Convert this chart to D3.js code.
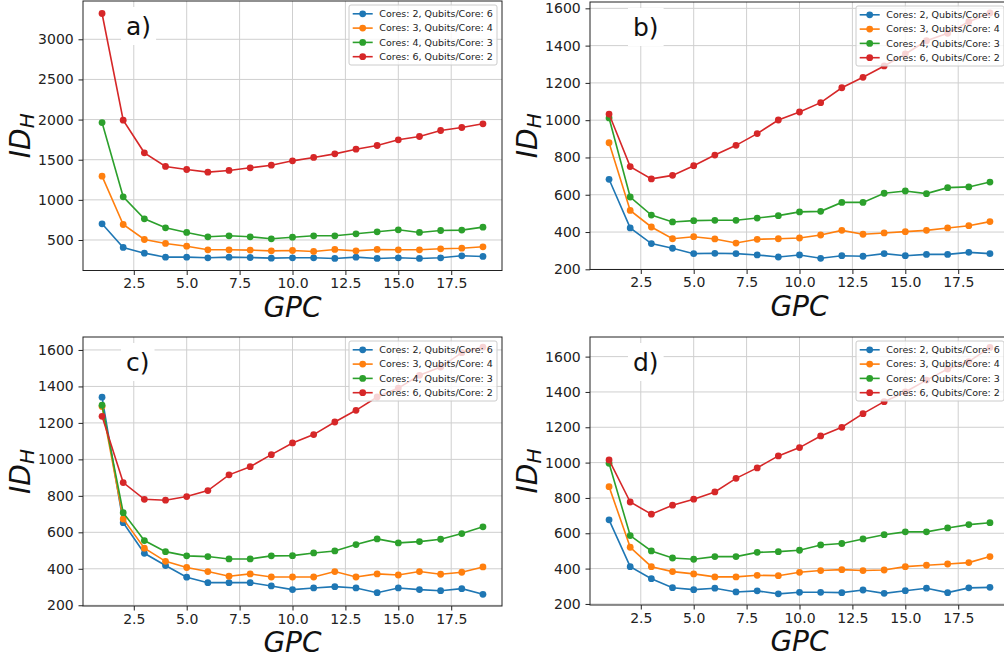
<!DOCTYPE html>
<html>
<head>
<meta charset="utf-8">
<script src="https://cdnjs.cloudflare.com/ajax/libs/d3/7.8.5/d3.min.js"></script>
<style>
	body { margin: 0; background: #fff; }
	svg { display: block; font-family: "DejaVu Sans", sans-serif; }
	.grid line { stroke: #cfcfcf; stroke-width: 1; }
	.axis path { display: none; }
	.axis line { stroke: #222; stroke-width: 1; }
	.axis text { font-size: 14px; fill: #222; font-family: "DejaVu Sans", sans-serif; }
	.series path { fill: none; stroke-width: 1.6; }
</style>
</head>
<body>
<div id="chart"></div>
<script>
var gpc = [1, 2, 3, 4, 5, 6, 7, 8, 9, 10, 11, 12, 13, 14, 15, 16, 17, 18, 19];
var xTicks = [2.5, 5, 7.5, 10, 12.5, 15, 17.5];
var xLimits = [0.1, 19.9];
var legendLabels = ["Cores: 2, Qubits/Core: 6", "Cores: 3, Qubits/Core: 4", "Cores: 4, Qubits/Core: 3", "Cores: 6, Qubits/Core: 2"];
var colors = ["#1f77b4", "#ff7f0e", "#2ca02c", "#d62728"];
var panelLetters = ["a)", "b)", "c)", "d)"];

// a)
var aCores2 = [702, 407, 336, 286, 286, 278, 286, 282, 274, 278, 278, 270, 286, 270, 278, 270, 278, 303, 295];
var aCores3 = [1295, 693, 506, 457, 423, 378, 378, 374, 365, 369, 357, 382, 365, 382, 378, 378, 390, 398, 415];
var aCores4 = [1963, 1038, 764, 652, 594, 540, 552, 540, 515, 535, 552, 552, 577, 602, 627, 594, 618, 623, 660];
var aCores6 = [3321, 1992, 1586, 1416, 1378, 1345, 1366, 1399, 1432, 1486, 1528, 1573, 1631, 1677, 1748, 1789, 1864, 1901, 1947];

// b)
var bCores2 = [683, 422, 338, 313, 284, 286, 284, 277, 266, 277, 259, 273, 270, 284, 273, 280, 280, 291, 284];
var bCores3 = [879, 516, 427, 364, 375, 363, 341, 361, 364, 368, 384, 409, 388, 395, 402, 409, 422, 434, 456];
var bCores4 = [1012, 588, 491, 454, 461, 463, 463, 475, 488, 508, 511, 559, 559, 608, 620, 606, 638, 642, 668];
var bCores6 = [1033, 751, 685, 704, 756, 813, 865, 928, 1001, 1044, 1094, 1174, 1230, 1291, 1355, 1426, 1466, 1528, 1575];

// c)
var cCores2 = [1341, 653, 485, 418, 354, 324, 324, 324, 306, 286, 295, 302, 295, 269, 295, 286, 280, 291, 260];
var cCores3 = [1290, 673, 513, 441, 407, 385, 359, 372, 355, 355, 355, 385, 355, 372, 366, 385, 370, 381, 410];
var cCores4 = [1297, 708, 555, 494, 471, 467, 454, 454, 471, 472, 487, 498, 533, 564, 542, 549, 562, 593, 630];
var cCores6 = [1236, 873, 781, 776, 796, 829, 915, 960, 1026, 1090, 1136, 1205, 1269, 1342, 1391, 1461, 1506, 1585, 1616];

// d)
var dCores2 = [676, 411, 343, 292, 281, 289, 268, 274, 257, 266, 266, 264, 279, 260, 275, 289, 264, 291, 294];
var dCores3 = [864, 521, 411, 383, 370, 353, 353, 362, 360, 379, 389, 394, 389, 392, 411, 419, 426, 434, 468];
var dCores4 = [996, 587, 500, 460, 453, 468, 468, 492, 496, 504, 534, 542, 568, 592, 608, 608, 630, 649, 660];
var dCores6 = [1015, 777, 708, 759, 793, 834, 911, 970, 1038, 1085, 1151, 1200, 1277, 1345, 1400, 1467, 1530, 1572, 1652];

var yTicksA = [500, 1000, 1500, 2000, 2500, 3000];
var yTicksBCD = [200, 400, 600, 800, 1000, 1200, 1400, 1600];
var yLimits = [[120, 3477], [199, 1634], [196, 1671], [194, 1711]];

var panels = [
	{ series: [aCores2, aCores3, aCores4, aCores6], yTicks: yTicksA, box: [83, 1, 419, 269.5] },
	{ series: [bCores2, bCores3, bCores4, bCores6], yTicks: yTicksBCD, box: [590, 2, 419, 267.5] },
	{ series: [cCores2, cCores3, cCores4, cCores6], yTicks: yTicksBCD, box: [83, 337, 419, 269] },
	{ series: [dCores2, dCores3, dCores4, dCores6], yTicks: yTicksBCD, box: [590, 337, 419, 268] }
];

var svg = d3.select("#chart").append("svg")
	.attr("width", 1004)
	.attr("height", 661);

panels.forEach(function(p, i) { drawPanel(p, i); });

function drawPanel(p, index)
{
	var left = p.box[0], top = p.box[1], width = p.box[2], height = p.box[3];

	var g = svg.append("g")
		.attr("transform", "translate(" + left + "," + top + ")");

	var x = d3.scaleLinear()
		.domain(xLimits)
		.range([0, width]);

	var y = d3.scaleLinear()
		.domain(yLimits[index])
		.range([height, 0]);

	// gridlines under everything
	g.append("g")
		.attr("class", "grid")
		.selectAll("line.v")
		.data(xTicks)
		.enter()
		.append("line")
		.attr("x1", function(d) { return x(d); })
		.attr("x2", function(d) { return x(d); })
		.attr("y1", 0)
		.attr("y2", height);

	g.append("g")
		.attr("class", "grid")
		.selectAll("line.h")
		.data(p.yTicks)
		.enter()
		.append("line")
		.attr("x1", 0)
		.attr("x2", width)
		.attr("y1", function(d) { return y(d); })
		.attr("y2", function(d) { return y(d); });

	// panel letter with white box
	var letter = g.append("g");
	var letterText = letter.append("text")
		.attr("x", 43)
		.attr("y", 34)
		.style("font-size", "25px")
		.style("fill", "#111")
		.text(panelLetters[index]);
	var bb = letterText.node().getBBox();
	letter.insert("rect", "text")
		.attr("x", bb.x - 5)
		.attr("y", bb.y - 5)
		.attr("width", bb.width + 10)
		.attr("height", bb.height + 9)
		.attr("fill", "#fff");

	var line = d3.line()
		.x(function(d) { return x(d.x); })
		.y(function(d) { return y(d.y); });

	var data = p.series.map(function(vals)
	{
		return gpc.map(function(v, k) { return { x: v, y: vals[k] }; });
	});

	var s = g.selectAll(".series")
		.data(data)
		.enter()
		.append("g")
		.attr("class", "series");

	s.append("path")
		.attr("d", function(d) { return line(d); })
		.style("stroke", function(d, i) { return colors[i]; });

	s.selectAll("circle")
		.data(function(d, i) { return d.map(function(pt) { return { x: pt.x, y: pt.y, c: colors[i] }; }); })
		.enter()
		.append("circle")
		.attr("cx", function(d) { return x(d.x); })
		.attr("cy", function(d) { return y(d.y); })
		.attr("r", 3.4)
		.style("fill", function(d) { return d.c; });

	// axes
	g.append("g")
		.attr("class", "axis axis--x")
		.attr("transform", "translate(0," + height + ")")
		.call(d3.axisBottom(x)
			.tickValues(xTicks)
			.tickFormat(d3.format(".1f"))
			.tickSize(4.5)
			.tickPadding(3.5));

	g.append("g")
		.attr("class", "axis axis--y")
		.call(d3.axisLeft(y)
			.tickValues(p.yTicks)
			.tickFormat(d3.format("d"))
			.tickSize(4.5)
			.tickPadding(4.8));

	// frame
	g.append("rect")
		.attr("width", width)
		.attr("height", height)
		.attr("fill", "none")
		.attr("stroke", "#222")
		.attr("stroke-width", 1);

	// axis titles
	g.append("text")
		.attr("x", width / 2)
		.attr("y", height + 46)
		.attr("text-anchor", "middle")
		.style("font-size", "28px")
		.style("font-style", "italic")
		.style("fill", "#111")
		.text("GPC");

	var yl = g.append("text")
		.attr("transform", "translate(-53.5," + (height / 2) + ") rotate(-90)")
		.attr("text-anchor", "middle")
		.style("font-size", "28px")
		.style("font-style", "italic")
		.style("fill", "#111");
	yl.append("tspan").text("ID");
	yl.append("tspan")
		.attr("dy", "0.22em")
		.style("font-size", "20px")
		.text("H");

	// legend
	var lw = 148, lh = 60;
	var legend = g.append("g")
		.attr("transform", "translate(" + (width - 5 - lw) + ",4)");

	legend.append("rect")
		.attr("width", lw)
		.attr("height", lh)
		.attr("rx", 2)
		.attr("fill", "#fff")
		.attr("fill-opacity", 0.8)
		.attr("stroke", "#cccccc")
		.attr("stroke-width", 1);

	var item = legend.selectAll(".item")
		.data(legendLabels)
		.enter()
		.append("g")
		.attr("class", "item")
		.attr("transform", function(d, i) { return "translate(0," + (8.8 + i * 14.3) + ")"; });

	item.append("line")
		.attr("x1", 3.7)
		.attr("x2", 23.7)
		.style("stroke", function(d, i) { return colors[i]; })
		.style("stroke-width", 1.6);

	item.append("circle")
		.attr("cx", 13.7)
		.attr("r", 3.4)
		.style("fill", function(d, i) { return colors[i]; });

	item.append("text")
		.attr("x", 30.3)
		.attr("dy", "0.35em")
		.style("font-size", "9.5px")
		.style("fill", "#222")
		.text(function(d) { return d; });
}
</script>
</body>
</html>
